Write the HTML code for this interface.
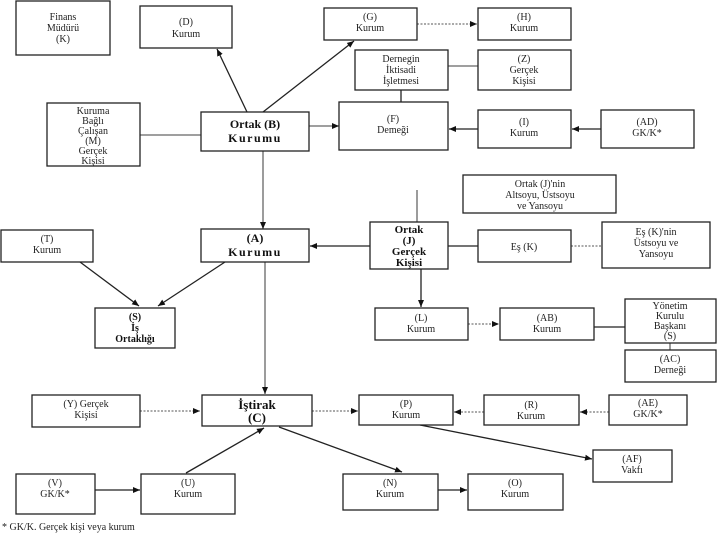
<!DOCTYPE html>
<html><head><meta charset="utf-8"><style>
html,body{margin:0;padding:0;background:#fff;}
svg{display:block;}
text{font-family:"Liberation Serif",serif;font-size:10px;fill:#222;text-anchor:middle;}
.b{font-weight:bold;font-size:12px;fill:#111;}
rect{fill:#fff;stroke:#222;stroke-width:1.3;}
line{stroke:#222;stroke-width:1.3;}
.d{stroke:#777;stroke-dasharray:2,1.5;}
.g{stroke:#666;}
</style></head><body>
<svg width="720" height="540" viewBox="0 0 720 540">
<defs><marker id="a" markerWidth="8" markerHeight="8" refX="7" refY="4" orient="auto" markerUnits="userSpaceOnUse"><path d="M0,1 L7,4 L0,7 z" fill="#111"/></marker></defs>

<line x1="247" y1="112" x2="217" y2="49" marker-end="url(#a)"/>
<line x1="263" y1="112" x2="354" y2="41" marker-end="url(#a)"/>
<line x1="309" y1="126" x2="339" y2="126" class="g" marker-end="url(#a)"/>
<line x1="140" y1="135" x2="201" y2="135" class="g"/>
<line x1="417" y1="24" x2="477" y2="24" class="d" marker-end="url(#a)"/>
<line x1="448" y1="66" x2="478" y2="66" class="g"/>
<line x1="401" y1="90" x2="401" y2="102"/>
<line x1="478" y1="129" x2="449" y2="129" marker-end="url(#a)"/>
<line x1="601" y1="129" x2="572" y2="129" marker-end="url(#a)"/>
<line x1="263" y1="151" x2="263" y2="229" class="g" marker-end="url(#a)"/>
<line x1="370" y1="246" x2="310" y2="246" marker-end="url(#a)"/>
<line x1="417" y1="190" x2="417" y2="222" class="g"/>
<line x1="448" y1="246" x2="478" y2="246"/>
<line x1="571" y1="246" x2="602" y2="246" class="d"/>
<line x1="421" y1="269" x2="421" y2="307" marker-end="url(#a)"/>
<line x1="468" y1="324" x2="499" y2="324" class="d" marker-end="url(#a)"/>
<line x1="594" y1="327" x2="625" y2="327"/>
<line x1="670" y1="343" x2="670" y2="350" class="g"/>
<line x1="80" y1="262" x2="139" y2="306" marker-end="url(#a)"/>
<line x1="225" y1="262" x2="158" y2="306" marker-end="url(#a)"/>
<line x1="265" y1="262" x2="265" y2="394" class="g" marker-end="url(#a)"/>
<line x1="140" y1="411" x2="200" y2="411" class="d" marker-end="url(#a)"/>
<line x1="312" y1="411" x2="358" y2="411" class="d" marker-end="url(#a)"/>
<line x1="484" y1="412" x2="454" y2="412" class="d" marker-end="url(#a)"/>
<line x1="609" y1="412" x2="580" y2="412" class="d" marker-end="url(#a)"/>
<line x1="420" y1="425" x2="592" y2="459" marker-end="url(#a)"/>
<line x1="186" y1="473" x2="264" y2="428" marker-end="url(#a)"/>
<line x1="279" y1="427" x2="402" y2="472" marker-end="url(#a)"/>
<line x1="95" y1="490" x2="140" y2="490" marker-end="url(#a)"/>
<line x1="438" y1="490" x2="467" y2="490" marker-end="url(#a)"/>

<rect x="16" y="1" width="94" height="54"/>
<text x="63" y="20">Finans</text><text x="63" y="31">Müdürü</text><text x="63" y="42">(K)</text>
<rect x="140" y="6" width="92" height="42"/>
<text x="186" y="25">(D)</text><text x="186" y="37">Kurum</text>
<rect x="324" y="8" width="93" height="32"/>
<text x="370" y="20">(G)</text><text x="370" y="31">Kurum</text>
<rect x="478" y="8" width="93" height="32"/>
<text x="524" y="20">(H)</text><text x="524" y="31">Kurum</text>
<rect x="355" y="50" width="93" height="40"/>
<text x="401" y="62">Dernegin</text><text x="401" y="73">İktisadi</text><text x="401" y="84">İşletmesi</text>
<rect x="478" y="50" width="93" height="40"/>
<text x="524" y="62">(Z)</text><text x="524" y="73">Gerçek</text><text x="524" y="84">Kişisi</text>
<rect x="201" y="112" width="108" height="39"/>
<text class="b" x="255" y="128">Ortak (B)</text><text class="b" x="255" y="142" letter-spacing="1.5">Kurumu</text>
<rect x="339" y="102" width="109" height="48"/>
<text x="393" y="122">(F)</text><text x="393" y="133">Demeği</text>
<rect x="478" y="110" width="93" height="38"/>
<text x="524" y="125">(I)</text><text x="524" y="136">Kurum</text>
<rect x="601" y="110" width="93" height="38"/>
<text x="647" y="125">(AD)</text><text x="647" y="136">GK/K*</text>
<rect x="47" y="103" width="93" height="63"/>
<text x="93" y="114">Kuruma</text><text x="93" y="124">Bağlı</text><text x="93" y="134">Çalışan</text><text x="93" y="144">(M)</text><text x="93" y="154">Gerçek</text><text x="93" y="164">Kişisi</text>
<rect x="463" y="175" width="153" height="38"/>
<text x="540" y="187">Ortak (J)'nin</text><text x="540" y="198">Altsoyu, Üstsoyu</text><text x="540" y="209">ve Yansoyu</text>
<rect x="1" y="230" width="92" height="32"/>
<text x="47" y="242">(T)</text><text x="47" y="253">Kurum</text>
<rect x="201" y="229" width="108" height="33"/>
<text class="b" x="255" y="242">(A)</text><text class="b" x="255" y="256" letter-spacing="1.5">Kurumu</text>
<rect x="370" y="222" width="78" height="47"/>
<text class="b" x="409" y="233" style="font-size:11px">Ortak</text><text class="b" x="409" y="244" style="font-size:11px">(J)</text><text class="b" x="409" y="255" style="font-size:11px">Gerçek</text><text class="b" x="409" y="266" style="font-size:11px">Kişisi</text>
<rect x="478" y="230" width="93" height="32"/>
<text x="524" y="250">Eş (K)</text>
<rect x="602" y="222" width="108" height="46"/>
<text x="656" y="235">Eş (K)'nin</text><text x="656" y="246">Üstsoyu ve</text><text x="656" y="257">Yansoyu</text>
<rect x="95" y="308" width="80" height="40"/>
<text class="b" x="135" y="320" style="font-size:10px">(S)</text><text class="b" x="135" y="331" style="font-size:10px">İş</text><text class="b" x="135" y="342" style="font-size:10px">Ortaklığı</text>
<rect x="375" y="308" width="93" height="32"/>
<text x="421" y="321">(L)</text><text x="421" y="332">Kurum</text>
<rect x="500" y="308" width="94" height="32"/>
<text x="547" y="321">(AB)</text><text x="547" y="332">Kurum</text>
<rect x="625" y="299" width="91" height="44"/>
<text x="670" y="309">Yönetim</text><text x="670" y="319">Kurulu</text><text x="670" y="329">Başkanı</text><text x="670" y="339">(S)</text>
<rect x="625" y="350" width="91" height="32"/>
<text x="670" y="362">(AC)</text><text x="670" y="373">Derneği</text>
<rect x="32" y="395" width="108" height="32"/>
<text x="86" y="407">(Y) Gerçek</text><text x="86" y="418">Kişisi</text>
<rect x="202" y="395" width="110" height="31"/>
<text class="b" x="257" y="409" style="font-size:13px">İştirak</text><text class="b" x="257" y="422" style="font-size:13px">(C)</text>
<rect x="359" y="395" width="94" height="30"/>
<text x="406" y="407">(P)</text><text x="406" y="418">Kurum</text>
<rect x="484" y="395" width="95" height="30"/>
<text x="531" y="408">(R)</text><text x="531" y="419">Kurum</text>
<rect x="609" y="395" width="78" height="30"/>
<text x="648" y="406">(AE)</text><text x="648" y="417">GK/K*</text>
<rect x="593" y="450" width="79" height="32"/>
<text x="632" y="462">(AF)</text><text x="632" y="473">Vakfı</text>
<rect x="16" y="474" width="79" height="40"/>
<text x="55" y="486">(V)</text><text x="55" y="497">GK/K*</text>
<rect x="141" y="474" width="94" height="40"/>
<text x="188" y="486">(U)</text><text x="188" y="497">Kurum</text>
<rect x="343" y="474" width="95" height="36"/>
<text x="390" y="486">(N)</text><text x="390" y="497">Kurum</text>
<rect x="468" y="474" width="95" height="36"/>
<text x="515" y="486">(O)</text><text x="515" y="497">Kurum</text>
<text x="2" y="530" style="text-anchor:start">* GK/K. Gerçek kişi veya kurum</text>
</svg>
</body></html>
